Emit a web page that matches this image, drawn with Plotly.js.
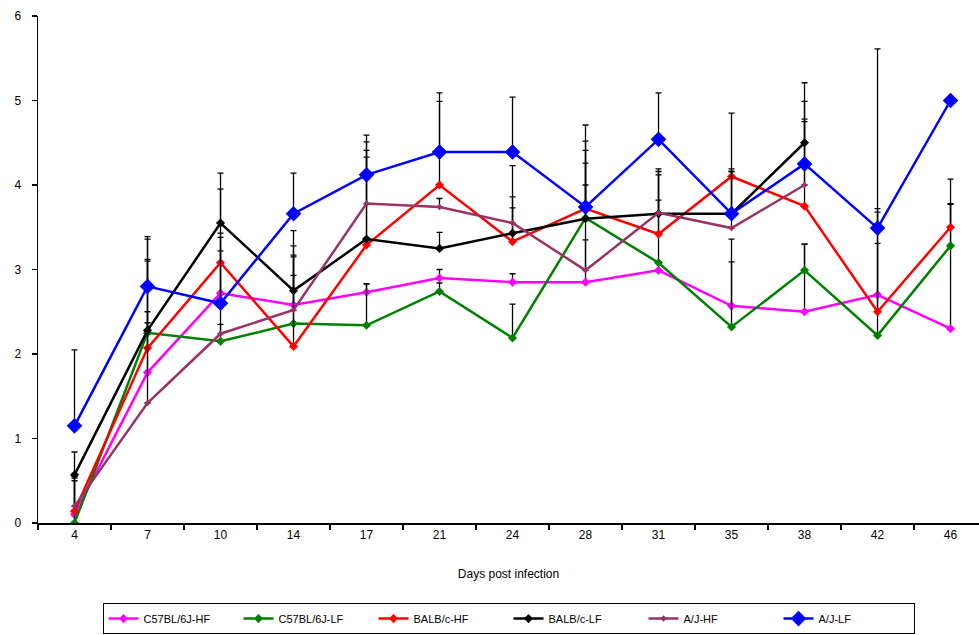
<!DOCTYPE html>
<html>
<head>
<meta charset="utf-8">
<script src="https://cdn.plot.ly/plotly-3.0.1.min.js"></script>
<style>html,body{margin:0;padding:0;background:#fff;}#chart{width:979px;height:635px;}</style>
</head>
<body>
<div id="chart"></div>
<script>
var days = ["4","7","10","14","17","21","24","28","31","35","38","42","46"];

var seriesNames = ["C57BL/6J-HF","C57BL/6J-LF","BALB/c-HF","BALB/c-LF","A/J-HF","A/J-LF"];
var seriesColors = ["#ff00ff","#008000","#ff0000","#000000","#993366","#0000ff"];

var c57HF = [0.10, 1.78, 2.72, 2.58, 2.73, 2.90, 2.85, 2.85, 2.99, 2.57, 2.50, 2.70, 2.30];
var c57LF = [0.00, 2.25, 2.15, 2.36, 2.34, 2.74, 2.19, 3.61, 3.08, 2.32, 2.99, 2.22, 3.28];
var balbHF = [0.14, 2.07, 3.08, 2.09, 3.29, 4.00, 3.33, 3.72, 3.42, 4.10, 3.75, 2.50, 3.50];
var balbLF = [0.57, 2.28, 3.55, 2.75, 3.36, 3.25, 3.43, 3.60, 3.66, 3.66, 4.50, null, null];
var ajHF = [0.20, 1.42, 2.24, 2.52, 3.78, 3.74, 3.55, 2.99, 3.67, 3.49, 4.00, null, null];
var ajLF = [1.15, 2.80, 2.60, 3.66, 4.12, 4.39, 4.39, 3.74, 4.54, 3.66, 4.25, 3.49, 5.00];

// upper error bars (plus direction only)
var c57HFErr = [0.45, 0.72, 0.66, 0.59, 0.10, 0.10, 0.10, 0.50, 0.10, 0.79, 0.80, 0.98, 1.47];
var c57LFErr = [0.50, 1.11, 0.20, 0.79, 0.49, 0.10, 0.40, 0.80, 0.74, 0.77, 0.31, 1.09, 0.50];
var balbHFErr = [0.42, 1.03, 0.87, 0.84, 1.04, 0.99, 0.90, 0.80, 0.70, 0.09, 1.00, 1.22, 0.57];
var balbLFErr = [0.27, 0.84, 0.59, 0.71, 1.05, 0.19, 0.43, 0.66, 0.50, 0.50, 0.71, null, null];
var ajHFErr = [0.33, 0.95, 0.98, 0.76, 0.73, 0.10, 0.18, 1.01, 0.52, 0.67, 0.78, null, null];
var ajLFErr = [0.90, 0.59, 0.83, 0.48, 0.47, 0.70, 0.65, 0.97, 0.55, 1.19, 0.74, 2.12, null];

var values = [c57HF, c57LF, balbHF, balbLF, ajHF, ajLF];
var errs = [c57HFErr, c57LFErr, balbHFErr, balbLFErr, ajHFErr, ajLFErr];
var markerSizes = [7, 7, 7, 7, 5, 12];

var traces = values.map(function(v, i){
  return {
    x: days, y: v, name: seriesNames[i], type: 'scatter', mode: 'lines+markers',
    line: {color: seriesColors[i], width: 2.5},
    marker: {symbol: 'diamond', size: markerSizes[i], color: seriesColors[i]},
    error_y: {type: 'data', symmetric: false, array: errs[i], arrayminus: errs[i].map(function(){return 0;}),
              color: '#000000', thickness: 1.3, width: 3},
    connectgaps: false
  };
});

var layout = {
  width: 979, height: 635,
  margin: {l: 38, r: 0, t: 16, b: 112},
  paper_bgcolor: '#ffffff', plot_bgcolor: '#ffffff',
  font: {family: 'Liberation Sans, Arial, sans-serif', size: 12, color: '#000'},
  showlegend: true,
  xaxis: {
    type: 'category', range: [-0.5, 12.39],
    showline: true, linecolor: '#000', linewidth: 1.5,
    ticks: 'outside', ticklen: 5, tickcolor: '#000', tickwidth: 1.5,
    tickson: 'boundaries', showgrid: false, zeroline: false,
    tickfont: {size: 12},
    title: {text: 'Days post infection', font: {size: 12}, standoff: 28}
  },
  yaxis: {
    range: [0, 6], dtick: 1, tick0: 0,
    showline: true, linecolor: '#000', linewidth: 1.5,
    ticks: 'outside', ticklen: 5, tickcolor: '#000', tickwidth: 1.5,
    ticklabelstandoff: 8,
    showgrid: false, zeroline: false, tickfont: {size: 12}
  },
  legend: {
    orientation: 'h', x: 0.5, xanchor: 'center', y: -0.158, yanchor: 'top',
    bordercolor: '#000', borderwidth: 1, font: {size: 11},
    entrywidth: 90, itemwidth: 30
  }
};

Plotly.newPlot('chart', traces, layout, {displayModeBar: false, staticPlot: true});
</script>
</body>
</html>
